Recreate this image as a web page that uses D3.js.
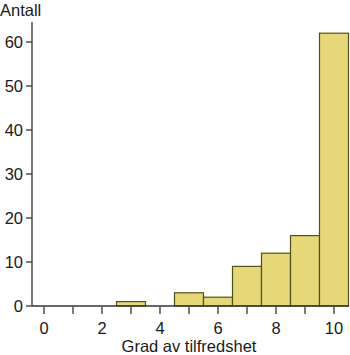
<!DOCTYPE html>
<html><head><meta charset="utf-8">
<script src="https://cdn.jsdelivr.net/npm/d3@7"></script>
<style>body{margin:0;background:#fff}text{font-family:"Liberation Sans",Arial,sans-serif;fill:#1a1a1a}</style>
</head><body>
<svg id="c" width="350" height="355"></svg>
<script>
const categories = [3, 5, 6, 7, 8, 9, 10];
const counts = [1, 3, 2, 9, 12, 16, 62];
const xTicks = [0, 1, 2, 3, 4, 5, 6, 7, 8, 9, 10];
const xLabels = [0, 2, 4, 6, 8, 10];
const yTicks = [0, 10, 20, 30, 40, 50, 60];

const svg = d3.select("#c");
const x = d3.scaleLinear().domain([0, 10]).range([44, 334]);
const y = d3.scaleLinear().domain([0, 60]).range([306, 42]);

svg.selectAll("rect").data(categories).enter().append("rect")
  .attr("x", (d) => x(d - 0.5))
  .attr("width", (d) => x(d + 0.5) - x(d - 0.5))
  .attr("y", (d, i) => y(counts[i]))
  .attr("height", (d, i) => y(0) - y(counts[i]))
  .attr("fill", "#e6d878").attr("stroke", "#4f5218").attr("stroke-width", 1.2);

// y axis
svg.append("line").attr("x1", 32).attr("x2", 32).attr("y1", 22).attr("y2", y(0)).attr("stroke", "#333").attr("stroke-width", 1.3);
svg.append("line").attr("x1", 32).attr("x2", 349).attr("y1", y(0)).attr("y2", y(0)).attr("stroke", "#333").attr("stroke-width", 1.3);
const yg = svg.append("g");
yTicks.forEach(t => {
  yg.append("line").attr("x1", 26).attr("x2", 32).attr("y1", y(t)).attr("y2", y(t)).attr("stroke", "#333").attr("stroke-width", 1.3);
  yg.append("text").attr("x", 23).attr("y", y(t) + 6).attr("text-anchor", "end").attr("font-size", 16.5).text(t);
});
const xg = svg.append("g");
xTicks.forEach(t => {
  xg.append("line").attr("x1", x(t)).attr("x2", x(t)).attr("y1", 307).attr("y2", 314).attr("stroke", "#333").attr("stroke-width", 1.3);
});
xLabels.forEach(t => {
  xg.append("text").attr("x", x(t)).attr("y", 334).attr("text-anchor", "middle").attr("font-size", 16.5).text(t);
});
svg.append("text").attr("x", 0).attr("y", 16).attr("font-size", 16.5).text("Antall");
svg.append("text").attr("x", 189).attr("y", 352).attr("text-anchor", "middle").attr("font-size", 16.5).text("Grad av tilfredshet");
</script>
</body></html>
